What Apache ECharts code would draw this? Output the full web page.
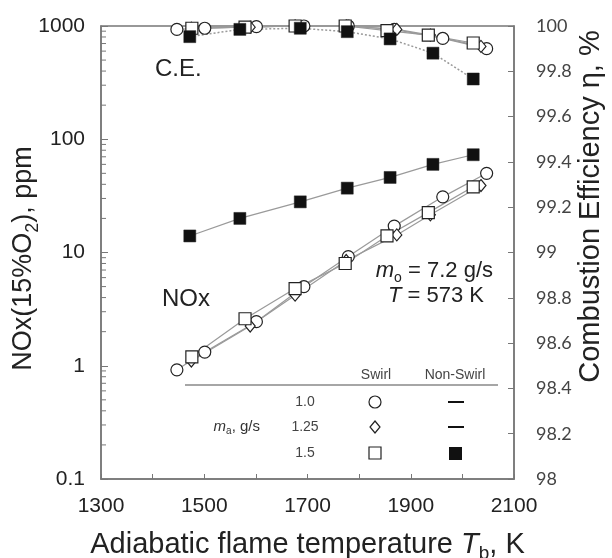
<!DOCTYPE html>
<html><head><meta charset="utf-8">
<script src="https://cdn.jsdelivr.net/npm/echarts@6/dist/echarts.min.js"></script>
<style>html,body{margin:0;padding:0;background:#fff}#c{width:612px;height:558px}</style>
</head><body><div id="c"></div>
<script>
// ---- data ----
const xTickLabels = [1300, 1500, 1700, 1900, 2100];
const yLeftTickLabels = [0.1, 1, 10, 100, 1000];
const yRightTickLabels = [98, 98.2, 98.4, 98.6, 98.8, 99, 99.2, 99.4, 99.6, 99.8, 100];
const minorLogTicks = [0.2,0.3,0.4,0.5,0.6,0.7,0.8,0.9, 2,3,4,5,6,7,8,9, 20,30,40,50,60,70,80,90, 200,300,400,500,600,700,800,900];

// swirl, m_a = 1.0 g/s (open circles)
const tempSwirl10 = [1447, 1501, 1601, 1693, 1779, 1868, 1962, 2047];
const noxSwirl10  = [0.92, 1.32, 2.45, 5.0, 9.2, 17.1, 31, 50];
const ceSwirl10   = [99.985, 99.99, 99.997, 100, 100, 99.985, 99.945, 99.9];
// swirl, m_a = 1.25 g/s (open diamonds)
const tempSwirl125 = [1475, 1589, 1676, 1775, 1873, 1938, 2036];
const noxSwirl125  = [1.1, 2.24, 4.2, 8.5, 14.3, 21.5, 39];
const ceSwirl125   = [99.99, 99.995, 100, 100, 99.985, 99.96, 99.91];
// swirl, m_a = 1.5 g/s (open squares)
const tempSwirl15 = [1476, 1579, 1676, 1773, 1854, 1934, 2021];
const noxSwirl15  = [1.2, 2.6, 4.8, 8.0, 14, 22.5, 38];
const ceSwirl15   = [99.99, 99.995, 100, 100, 99.98, 99.96, 99.925];
// non-swirl, m_a = 1.5 g/s (filled squares)
const tempNonSwirl15 = [1472, 1569, 1686, 1777, 1860, 1943, 2021];
const noxNonSwirl15  = [14, 20, 28, 37, 46, 60, 73];
const ceNonSwirl15   = [99.953, 99.985, 99.99, 99.975, 99.943, 99.88, 99.766];

// ---- chart ----
const FONT = "'Liberation Sans', Arial, sans-serif";
const AX = '#777';
const chart = echarts.init(document.getElementById('c'), null, {renderer: 'canvas'});

function pairs(t, v) { return t.map((x, i) => [x, v[i]]); }
function mkSeries(name, t, v, yIdx, symbol, size, filled, dotted) {
  return {
    name, type: 'line', xAxisIndex: 0, yAxisIndex: yIdx,
    data: pairs(t, v), symbol, symbolSize: size, clip: false,
    lineStyle: {color: '#9a9a9a', width: dotted ? 1.5 : 1.2, type: dotted ? [2, 2] : 'solid'},
    itemStyle: {color: filled ? '#111' : '#fff', borderColor: '#222', borderWidth: filled ? 0.5 : 1.2},
    emphasis: {disabled: true}, z: 3
  };
}

const sub = (fs, pad) => ({fontSize: fs, fontFamily: FONT, color: '#222', padding: [pad, 0, 0, 0]});

const option = {
  animation: false,
  backgroundColor: '#fff',
  grid: {left: 101, right: 98, top: 26, bottom: 79, show: true, borderColor: AX, borderWidth: 1.5,
    backgroundColor: 'transparent', containLabel: false, outerBoundsMode: 'none'},
  xAxis: {
    type: 'value', min: xTickLabels[0], max: xTickLabels[xTickLabels.length - 1], interval: 200,
    axisLine: {lineStyle: {color: AX, width: 1.5}},
    axisTick: {inside: true, length: 5, lineStyle: {color: AX}},
    minorTick: {show: true, splitNumber: 2, length: 5, lineStyle: {color: AX}},
    splitLine: {show: false},
    axisLabel: {fontSize: 21, fontFamily: FONT, color: '#222', margin: 17, formatter: v => String(Math.round(v))},
    name: 'Adiabatic flame temperature {i|T}{s|b}, K',
    nameLocation: 'middle', nameGap: 47, nameMoveOverlap: false,
    nameTextStyle: {fontSize: 29, fontFamily: FONT, color: '#222',
      rich: {i: {fontSize: 29, fontStyle: 'italic', fontFamily: FONT, color: '#222'}, s: sub(19, 18)}}
  },
  yAxis: [
    {
      type: 'log', logBase: 10, min: yLeftTickLabels[0], max: yLeftTickLabels[yLeftTickLabels.length - 1],
      splitNumber: 4,
      axisLine: {lineStyle: {color: AX, width: 1.5}},
      axisTick: {inside: true, length: 7, lineStyle: {color: AX}},
      splitLine: {show: false},
      axisLabel: {fontSize: 21, fontFamily: FONT, color: '#222', margin: 16,
        formatter: v => String(parseFloat(Number(v).toPrecision(3)))},
      name: 'NOx(15%O{s|2}), ppm', nameLocation: 'middle', nameGap: 59, nameRotate: 90, nameMoveOverlap: false,
      nameTextStyle: {fontSize: 27, fontFamily: FONT, color: '#222', padding: [0, 12, 0, 0], rich: {s: sub(18, 18)}}
    },
    {
      type: 'value', position: 'right', min: yRightTickLabels[0], max: yRightTickLabels[yRightTickLabels.length - 1], interval: 0.2,
      axisLine: {show: true, lineStyle: {color: AX, width: 1.5}},
      axisTick: {inside: true, length: 6, lineStyle: {color: AX}},
      splitLine: {show: false},
      axisLabel: {fontSize: 18, fontFamily: "Lato, 'Open Sans', sans-serif", color: '#444', margin: 22},
      name: 'Combustion Efficiency η, %', nameLocation: 'middle', nameGap: 62, nameRotate: 90, nameMoveOverlap: false,
      nameTextStyle: {fontSize: 29, fontFamily: FONT, color: '#222', padding: [0, 0, 0, 92]}
    }
  ],
  series: [
    mkSeries('NOx 1.0', tempSwirl10, noxSwirl10, 0, 'circle', 12, false, false),
    mkSeries('NOx 1.25', tempSwirl125, noxSwirl125, 0, 'diamond', [10, 12], false, false),
    mkSeries('NOx 1.5', tempSwirl15, noxSwirl15, 0, 'rect', 12, false, false),
    mkSeries('NOx NS 1.5', tempNonSwirl15, noxNonSwirl15, 0, 'rect', 12, true, false),
    mkSeries('CE 1.0', tempSwirl10, ceSwirl10, 1, 'circle', 12, false, false),
    mkSeries('CE 1.25', tempSwirl125, ceSwirl125, 1, 'diamond', [10, 12], false, false),
    mkSeries('CE 1.5', tempSwirl15, ceSwirl15, 1, 'rect', 12, false, false),
    mkSeries('CE NS 1.5', tempNonSwirl15, ceNonSwirl15, 1, 'rect', 12, true, true),
    {
      type: 'custom', xAxisIndex: 0, yAxisIndex: 0, silent: true, clip: false, z: 2,
      data: minorLogTicks.map(v => [xTickLabels[0], v]),
      renderItem: (params, api) => {
        const p = api.coord([api.value(0), api.value(1)]);
        return {type: 'line', shape: {x1: p[0], y1: p[1], x2: p[0] + 5, y2: p[1]}, style: {stroke: AX, lineWidth: 1}};
      }
    }
  ],
  graphic: [
    {type: 'text', left: 155, top: 57, style: {text: 'C.E.', fontSize: 24, fontFamily: FONT, fill: '#222'}},
    {type: 'text', left: 162, top: 287, style: {text: 'NOx', fontSize: 24, fontFamily: FONT, fill: '#222'}},
    {type: 'text', x: 493, y: 271, style: {text: '{i|m}{s|o} = 7.2 g/s', align: 'right', verticalAlign: 'middle',
      fontSize: 22, fontFamily: FONT, fill: '#222',
      rich: {i: {fontSize: 22, fontStyle: 'italic', fontFamily: FONT, fill: '#222'}, s: {fontSize: 14, fontFamily: FONT, fill: '#222', padding: [14, 0, 0, 0]}}}},
    {type: 'text', x: 484, y: 296, style: {text: '{i|T} = 573 K', align: 'right', verticalAlign: 'middle',
      fontSize: 22, fontFamily: FONT, fill: '#222',
      rich: {i: {fontSize: 22, fontStyle: 'italic', fontFamily: FONT, fill: '#222'}}}},
    {type: 'line', shape: {x1: 185, y1: 385, x2: 498, y2: 385}, style: {stroke: '#888', lineWidth: 1.5}},
    {type: 'text', x: 376, y: 375, style: {text: 'Swirl', align: 'center', verticalAlign: 'middle', fontSize: 14, fontFamily: FONT, fill: '#444'}},
    {type: 'text', x: 455, y: 375, style: {text: 'Non-Swirl', align: 'center', verticalAlign: 'middle', fontSize: 14, fontFamily: FONT, fill: '#444'}},
    {type: 'text', x: 305, y: 402, style: {text: '1.0', align: 'center', verticalAlign: 'middle', fontSize: 14, fontFamily: FONT, fill: '#444'}},
    {type: 'text', x: 305, y: 427, style: {text: '1.25', align: 'center', verticalAlign: 'middle', fontSize: 14, fontFamily: FONT, fill: '#444'}},
    {type: 'text', x: 305, y: 453, style: {text: '1.5', align: 'center', verticalAlign: 'middle', fontSize: 14, fontFamily: FONT, fill: '#444'}},
    {type: 'text', x: 260, y: 427, style: {text: '{i|m}{s|a}, g/s', align: 'right', verticalAlign: 'middle', fontSize: 15, fontFamily: FONT, fill: '#333',
      rich: {i: {fontSize: 15, fontStyle: 'italic', fontFamily: FONT, fill: '#333'}, s: {fontSize: 10, fontFamily: FONT, fill: '#333', padding: [9, 0, 0, 0]}}}},
    {type: 'circle', shape: {cx: 375, cy: 402, r: 6}, style: {fill: '#fff', stroke: '#222', lineWidth: 1.2}},
    {type: 'polygon', shape: {points: [[375, 421], [380, 427], [375, 433], [370, 427]]}, style: {fill: '#fff', stroke: '#222', lineWidth: 1.2}},
    {type: 'rect', shape: {x: 369, y: 447, width: 12, height: 12}, style: {fill: '#fff', stroke: '#222', lineWidth: 1.2}},
    {type: 'line', shape: {x1: 448, y1: 402, x2: 464, y2: 402}, style: {stroke: '#111', lineWidth: 2}},
    {type: 'line', shape: {x1: 448, y1: 427, x2: 464, y2: 427}, style: {stroke: '#111', lineWidth: 2}},
    {type: 'rect', shape: {x: 449, y: 447, width: 13, height: 13}, style: {fill: '#111'}}
  ]
};
chart.setOption(option);
</script>
</body></html>
